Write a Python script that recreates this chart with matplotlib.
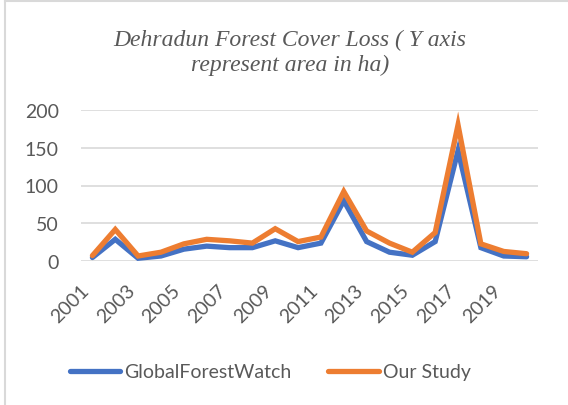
import matplotlib.pyplot as plt
from matplotlib.lines import Line2D

years = list(range(2001, 2021))
gfw = [5, 29, 4, 7, 16, 20, 18, 18, 27, 18, 24, 80, 26, 12, 8, 26, 146, 18, 7, 6]
our_study = [7.5, 42, 7, 12, 23, 29, 27, 24, 43, 26, 32, 92, 40, 24, 12, 38, 180, 23, 13, 10]
tick_labels = [str(y) for y in years[::2]]

gray = '#595959'
plt.rcParams['font.family'] = ['Lato', 'DejaVu Sans']

fig = plt.figure(figsize=(5.68, 4.06), dpi=100)
ax = fig.add_axes([81 / 568, 1 - 262.3 / 406, (538 - 81) / 568, (262.3 - 110.7) / 406])

x = list(range(len(years)))
ax.plot(x, gfw, color='#4472C4', lw=3.8, solid_joinstyle='miter', solid_capstyle='round', zorder=3)
ax.plot(x, our_study, color='#ED7D31', lw=3.8, solid_joinstyle='miter', solid_capstyle='round', zorder=4)

ax.set_xlim(-0.5, len(years) - 0.5)
ax.set_ylim(0, 200)
ax.set_yticks([0, 50, 100, 150, 200])
ax.grid(axis='y', color='#D9D9D9', lw=1.2)
ax.set_axisbelow(True)
for s in ax.spines.values():
    s.set_visible(False)
ax.tick_params(axis='y', length=0, labelsize=14, labelcolor=gray, pad=16)
ax.set_xticks(x[::2])
ax.set_xticklabels(tick_labels, rotation=45, ha='right', va='top')
ax.tick_params(axis='x', length=0, labelsize=14, labelcolor=gray, pad=14)

# title: first line baseline ~45px, second ~71px
fig.text(290 / 568, 1 - 71 / 406, 'Dehradun Forest Cover Loss ( Y axis\nrepresent area in ha)',
         family='Liberation Serif', style='italic', fontsize=17, color=gray,
         ha='center', va='baseline', linespacing=1.22)

handles = [Line2D([], [], color='#4472C4', lw=3.8, solid_capstyle='round'),
           Line2D([], [], color='#ED7D31', lw=3.8, solid_capstyle='round')]
fig.legend(handles, ['GlobalForestWatch', 'Our Study'], loc='center', bbox_to_anchor=(270 / 568, 1 - 373 / 406),
           ncol=2, frameon=False, fontsize=14, labelcolor=gray, handlelength=2.6, handletextpad=0.2,
           columnspacing=1.9)

# chart border (top and left visible in the reference)
fig.add_artist(Line2D([4.5 / 568, 4.5 / 568], [0, 1 - 1.5 / 406], color='#D9D9D9', lw=1.5))
fig.add_artist(Line2D([4.5 / 568, 1], [1 - 1.5 / 406, 1 - 1.5 / 406], color='#D9D9D9', lw=1.5))

fig.savefig('out.png', dpi=100)
